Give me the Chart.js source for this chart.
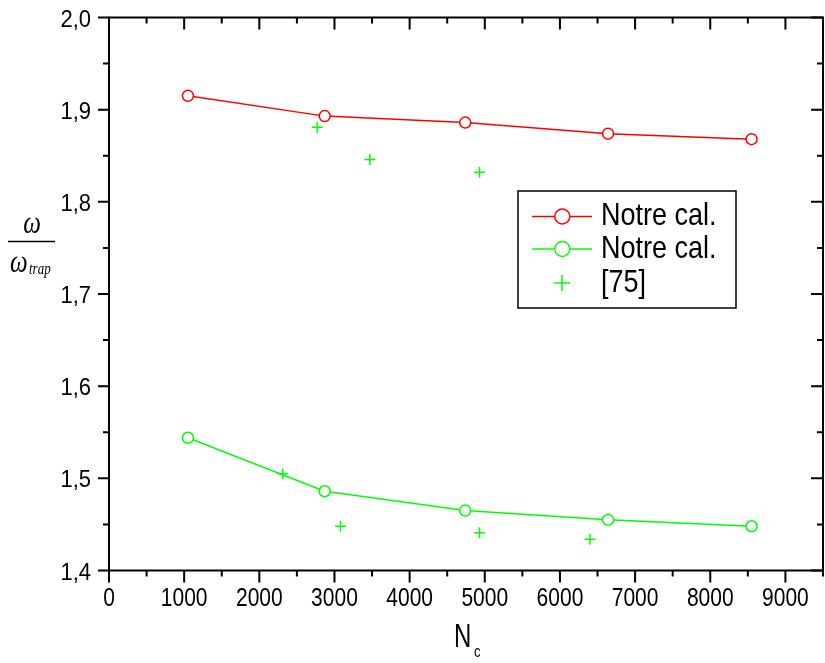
<!DOCTYPE html>
<html>
<head>
<meta charset="utf-8">
<script src="https://cdn.jsdelivr.net/npm/chart.js@4/dist/chart.umd.min.js"></script>
<style>
  html, body { margin: 0; padding: 0; overflow: hidden; background: #fff; }
  #wrap { width: 830px; height: 663px; }
</style>
</head>
<body>
<div id="wrap"><canvas id="omegaChart" width="830" height="663"></canvas></div>
<script>
// values
const nCalc = [1050, 2870, 4740, 6640, 8550];
const omegaRed = [1.915, 1.893, 1.886, 1.874, 1.868];
const omegaGreen = [1.544, 1.486, 1.465, 1.455, 1.448];
const nRef75 = [2770, 3470, 4930, 2310, 3080, 4930, 6400];
const omegaRef75 = [1.881, 1.846, 1.832, 1.505, 1.448, 1.441, 1.434];
const seriesLabels = ['Notre cal.', 'Notre cal.', '[75]'];
const xTickValues = [0, 1000, 2000, 3000, 4000, 5000, 6000, 7000, 8000, 9000];
const yTickValues = [1.4, 1.5, 1.6, 1.7, 1.8, 1.9, 2.0];
const yTickLabels = ['1,4', '1,5', '1,6', '1,7', '1,8', '1,9', '2,0'];

const RED = '#ff0000';
const GREEN = '#00ff00';

const toPoints = (xs, ys) => xs.map((x, i) => ({ x: x, y: ys[i] }));

// text with a slight vertical stretch, like the original export
const stretchText = (ctx, text, x, y, font, align, sy) => {
    ctx.save();
    ctx.font = font;
    ctx.textAlign = align || 'left';
    ctx.textBaseline = 'alphabetic';
    ctx.translate(x, y);
    ctx.scale(1, sy || 1);
    ctx.fillText(text, 0, 0);
    ctx.restore();
};

// frame, ticks, labels, titles and legend
const framePlugin = {
    id: 'frame',
    afterDraw(chart) {
        const ctx = chart.ctx;
        const area = chart.chartArea;
        const xs = chart.scales.x;
        const ys = chart.scales.y;
        ctx.save();
        ctx.strokeStyle = '#000';
        ctx.fillStyle = '#000';
        ctx.lineWidth = 2;
        ctx.strokeRect(area.left, area.top, area.right - area.left, area.bottom - area.top);

        ctx.beginPath();
        for (let v = xs.min; v <= xs.max + 1e-9; v += 500) {
            const px = xs.getPixelForValue(v);
            const major = v % 1000 === 0;
            const len = major ? 12 : 6;
            ctx.moveTo(px, area.bottom); ctx.lineTo(px, area.bottom + len);
            ctx.moveTo(px, area.top); ctx.lineTo(px, area.top + len);
        }
        for (let k = 0; k <= 12; k++) {
            const v = ys.min + k * 0.05;
            const py = ys.getPixelForValue(v);
            const major = k % 2 === 0;
            ctx.moveTo(area.left, py); ctx.lineTo(area.left - (major ? 11 : 6), py);
            ctx.moveTo(area.right, py); ctx.lineTo(area.right - (major ? 12 : 6), py);
        }
        ctx.stroke();

        // tick labels
        xs.ticks.forEach(t => {
            stretchText(ctx, String(t.value), xs.getPixelForValue(t.value), 606, '21px "Liberation Sans", Arial, sans-serif', 'center', 1.2);
        });
        ys.ticks.forEach((t, i) => {
            stretchText(ctx, yTickLabels[i], 91, ys.getPixelForValue(t.value) + 9, '22px "Liberation Sans", Arial, sans-serif', 'right', 1.12);
        });

        // x title N_c
        stretchText(ctx, 'N', 454, 646.5, '24px "Liberation Sans", Arial, sans-serif', 'left', 1.38);
        stretchText(ctx, 'c', 474, 657, '13px "Liberation Sans", Arial, sans-serif', 'left', 1.3);

        // y title omega / omega_trap
        const serif = '"Liberation Serif", "Times New Roman", serif';
        stretchText(ctx, '\u03c9', 32, 233, 'italic 25px ' + serif, 'center', 1.3);
        ctx.lineWidth = 1.5;
        ctx.beginPath();
        ctx.moveTo(8, 241.5); ctx.lineTo(55, 241.5);
        ctx.stroke();
        stretchText(ctx, '\u03c9', 10, 272, 'italic 25px ' + serif, 'left', 1.3);
        stretchText(ctx, 'trap', 29, 274, 'italic 13px ' + serif, 'left', 1.3);

        // legend
        ctx.lineWidth = 1.5;
        ctx.strokeRect(518, 191, 218, 117);
        const rows = [216.5, 249, 283];
        chart.data.datasets.forEach((ds, i) => {
            const cy = rows[i];
            ctx.strokeStyle = ds.borderColor;
            ctx.lineWidth = 1.5;
            if (ds.showLine !== false) {
                ctx.beginPath();
                ctx.moveTo(532, cy); ctx.lineTo(554.5, cy);
                ctx.moveTo(570, cy); ctx.lineTo(592, cy);
                ctx.stroke();
                ctx.beginPath();
                ctx.arc(562.3, cy, 7.5, 0, Math.PI * 2);
                ctx.stroke();
            } else {
                ctx.beginPath();
                ctx.moveTo(554, cy); ctx.lineTo(570, cy);
                ctx.moveTo(562, cy - 8); ctx.lineTo(562, cy + 8);
                ctx.stroke();
            }
            ctx.fillStyle = '#000';
            stretchText(ctx, ds.label, 601, cy + 8.8, '27px "Liberation Sans", Arial, sans-serif', 'left', 1.13);
        });
        ctx.restore();
    }
};

const ctx = document.getElementById('omegaChart').getContext('2d');
new Chart(ctx, {
    type: 'scatter',
    data: {
        datasets: [
            {
                label: seriesLabels[0],
                data: toPoints(nCalc, omegaRed),
                showLine: true,
                borderColor: RED,
                backgroundColor: '#fff',
                borderWidth: 1.5,
                pointRadius: 5.5,
                pointBorderWidth: 1.5,
                pointBackgroundColor: '#fff',
                pointBorderColor: RED
            },
            {
                label: seriesLabels[1],
                data: toPoints(nCalc, omegaGreen),
                showLine: true,
                borderColor: GREEN,
                backgroundColor: '#fff',
                borderWidth: 1.5,
                pointRadius: 5.5,
                pointBorderWidth: 1.5,
                pointBackgroundColor: '#fff',
                pointBorderColor: GREEN
            },
            {
                label: seriesLabels[2],
                data: toPoints(nRef75, omegaRef75),
                showLine: false,
                borderColor: GREEN,
                pointStyle: 'cross',
                pointRadius: 5.5,
                pointBorderWidth: 1.5,
                pointBorderColor: GREEN
            }
        ]
    },
    options: {
        responsive: false,
        animation: false,
        devicePixelRatio: 1,
        layout: { padding: { top: 17.5, left: 0, right: 4, bottom: 0 } },
        plugins: {
            legend: { display: false },
            tooltip: { enabled: false }
        },
        scales: {
            x: {
                type: 'linear',
                min: 0,
                max: 9500,
                grid: { display: false, drawTicks: false },
                border: { display: false },
                ticks: { display: false },
                afterBuildTicks: scale => { scale.ticks = xTickValues.map(v => ({ value: v })); },
                afterFit: scale => { scale.height = 92.5; }
            },
            y: {
                type: 'linear',
                min: 1.4,
                max: 2.0,
                grid: { display: false, drawTicks: false },
                border: { display: false },
                ticks: { display: false },
                afterBuildTicks: scale => { scale.ticks = yTickValues.map(v => ({ value: v })); },
                afterFit: scale => { scale.width = 109; }
            }
        }
    },
    plugins: [framePlugin]
});
</script>
</body>
</html>
